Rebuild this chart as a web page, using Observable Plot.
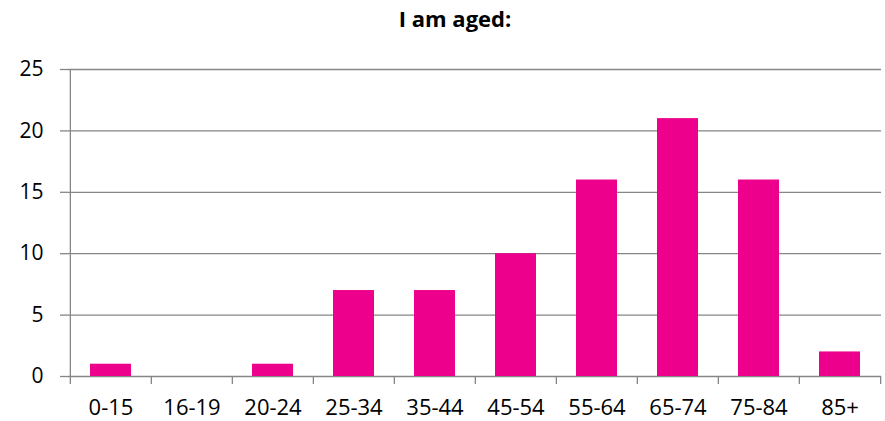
<!DOCTYPE html>
<html><head><meta charset="utf-8">
<script src="https://cdn.jsdelivr.net/npm/d3@7"></script>
<script src="https://cdn.jsdelivr.net/npm/@observablehq/plot@0.6"></script>
<style>
body{margin:0;background:#fff}
#wrap{position:relative;width:885px;height:421px;font-family:"Open Sans",sans-serif}
#title{position:absolute;left:0;width:910px;top:8px;line-height:21px;text-align:center;font-weight:bold;font-size:22px;color:#000}
</style></head>
<body>
<div id="wrap"><div id="title">I am aged:</div></div>
<script>
const categories = ["0-15","16-19","20-24","25-34","35-44","45-54","55-64","65-74","75-84","85+"];
const values = [1,0,1,7,7,10,16,21,16,2];
const yTicks = [0,5,10,15,20,25];
const title = "I am aged:";

const data = categories.map((c,i)=>({age:c, count:values[i]}));
const W = 885, H = 421, mL = 68, mR = 4, mT = 69, mB = 45;
const step = (W - mL - mR) / categories.length;
const gray = "#868686";

const chart = Plot.plot({
  width: W, height: H,
  marginLeft: mL, marginRight: mR, marginTop: mT, marginBottom: mB,
  style: {fontFamily: '"Open Sans", sans-serif', fontSize: "21px", color: "#000", background: "transparent"},
  x: {domain: categories, paddingInner: 0.5, paddingOuter: 0.25, label: null},
  y: {domain: [0,25], label: null},
  marks: [
    Plot.ruleY(yTicks, {stroke: gray, strokeWidth: 1.3}),
    Plot.ruleX([categories[0]], {stroke: gray, strokeWidth: 1.3, dx: -step/2}),
    Plot.axisY({ticks: yTicks, tickSize: 8, tickPadding: 17, stroke: gray, strokeWidth: 1.3, strokeOpacity: 1}),
    Plot.axisX({tickSize: 8, tickFormat: () => "", dx: -step/2, stroke: gray, strokeWidth: 1.3, strokeOpacity: 1}),
    Plot.axisX({ticks: [categories[categories.length-1]], tickSize: 8, tickFormat: () => "", dx: step/2, stroke: gray, strokeWidth: 1.3, strokeOpacity: 1}),
    Plot.axisX({tickSize: 0, tickPadding: 23, fontSize: 22}),
    Plot.barY(data, {x: "age", y: "count", fill: "#EC008C"})
  ]
});
document.getElementById("wrap").appendChild(chart);
</script>
</body></html>
